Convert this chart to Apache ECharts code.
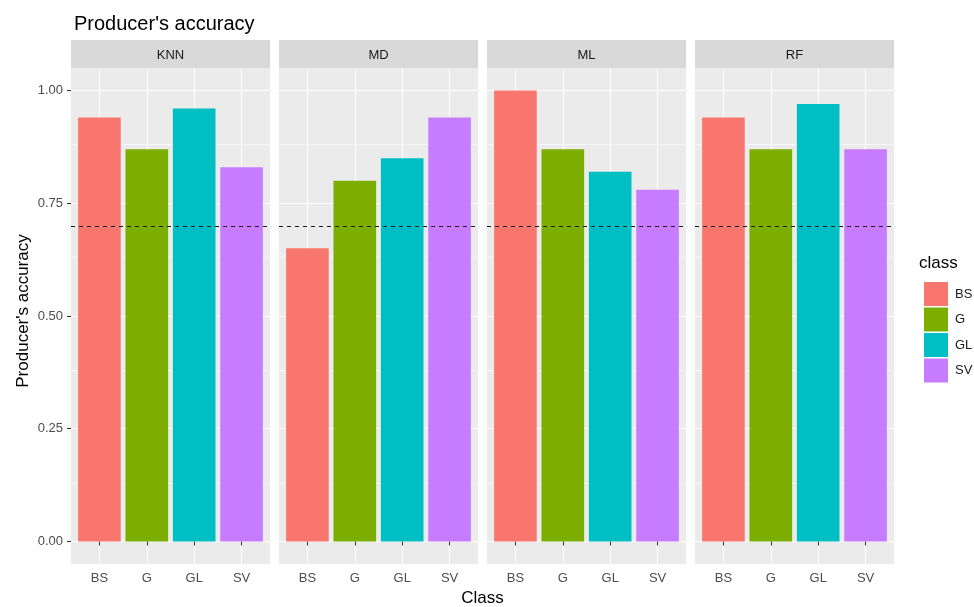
<!DOCTYPE html>
<html>
<head>
<meta charset="utf-8">
<script src="https://cdn.jsdelivr.net/npm/echarts@6/dist/echarts.min.js"></script>
<style>
  html, body { margin: 0; padding: 0; background: #fff; }
  #chart { width: 974px; height: 607px; }
</style>
</head>
<body>
<div id="chart"></div>
<script>
// Facets (classification methods) and land-cover classes
const methods = ['KNN', 'MD', 'ML', 'RF'];
const classes = ['BS', 'G', 'GL', 'SV'];

// Producer's accuracy per class, one array per method
const knnAcc = [0.94, 0.87, 0.96, 0.83];
const mdAcc  = [0.65, 0.80, 0.85, 0.94];
const mlAcc  = [1.00, 0.87, 0.82, 0.78];
const rfAcc  = [0.94, 0.87, 0.97, 0.87];

// Reference threshold (dashed line)
const threshold = 0.70;

// Axis ticks
const yTicks = [0, 0.25, 0.5, 0.75, 1.0];
const yMinorTicks = [0.125, 0.375, 0.625, 0.875];
const xTicks = [1, 2, 3, 4];

const classColors = ['#F8766D', '#7CAE00', '#00BFC4', '#C77CFF'];
const accByMethod = [knnAcc, mdAcc, mlAcc, rfAcc];

// Panel layout
const FONT = "'Liberation Sans', Arial, sans-serif";
const PANEL_LEFT = 71, PANEL_W = 199, PANEL_GAP = 9;
const PANEL_TOP = 68, PANEL_H = 496;
const STRIP_TOP = 40, STRIP_H = 28;
const panelX = i => PANEL_LEFT + i * (PANEL_W + PANEL_GAP);

const grids = [], xAxes = [], yAxes = [], series = [], graphics = [];

methods.forEach((m, g) => {
  grids.push({
    left: panelX(g), top: PANEL_TOP, width: PANEL_W, height: PANEL_H,
    show: true, backgroundColor: '#EBEBEB', borderWidth: 0
  });
  xAxes.push({
    type: 'value', gridIndex: g, min: 0.4, max: 4.6,
    axisLine: { show: false },
    axisTick: { show: true, customValues: xTicks, length: 4, lineStyle: { color: '#333333', width: 1 } },
    axisLabel: {
      customValues: xTicks, formatter: v => classes[Math.round(v) - 1],
      color: '#4D4D4D', fontSize: 13, fontFamily: FONT, margin: 8
    },
    splitLine: { show: true, lineStyle: { color: '#FFFFFF', width: 1.1 } }
  });
  yAxes.push({
    type: 'value', gridIndex: g, min: -0.05, max: 1.05,
    axisLine: { show: false },
    axisTick: { show: g === 0, customValues: yTicks, length: 4, lineStyle: { color: '#333333', width: 1 } },
    axisLabel: {
      show: g === 0, customValues: yTicks, formatter: v => v.toFixed(2),
      color: '#4D4D4D', fontSize: 13, fontFamily: FONT, margin: 8
    },
    splitLine: { show: true, lineStyle: { color: '#FFFFFF', width: 1.1 } }
  });

  // minor horizontal grid lines, kept beneath the bars
  series.push({
    type: 'line', xAxisIndex: g, yAxisIndex: g, data: [], z: 1, silent: true,
    markLine: {
      z: 1, silent: true, symbol: 'none', label: { show: false }, animation: false,
      lineStyle: { color: '#FFFFFF', width: 0.55, type: 'solid' },
      data: yMinorTicks.map(v => ({ yAxis: v }))
    }
  });

  // bars, one series per class so the legend lists the classes
  classes.forEach((c, k) => {
    series.push({
      type: 'bar', name: c, xAxisIndex: g, yAxisIndex: g, z: 2,
      barWidth: '90%', barGap: '-100%',
      itemStyle: { color: classColors[k] },
      data: [[k + 1, accByMethod[g][k]]]
    });
  });

  // threshold line drawn over the bars
  series.push({
    type: 'line', xAxisIndex: g, yAxisIndex: g, data: [], z: 5, silent: true,
    markLine: {
      z: 6, silent: true, symbol: 'none', label: { show: false }, animation: false,
      lineStyle: { color: '#1A1A1A', width: 1.1, type: [4, 4] },
      data: [{ yAxis: threshold }]
    }
  });

  // facet strip
  graphics.push({
    type: 'rect', left: panelX(g), top: STRIP_TOP,
    shape: { width: PANEL_W, height: STRIP_H }, style: { fill: '#D9D9D9' }, silent: true
  });
  graphics.push({
    type: 'text', x: panelX(g) + PANEL_W / 2, y: STRIP_TOP + STRIP_H / 2 + 1,
    style: { text: m, fill: '#1A1A1A', font: '13px ' + FONT, align: 'center', verticalAlign: 'middle' },
    silent: true
  });
});

// axis titles and legend title
graphics.push({
  type: 'text', x: PANEL_LEFT + (4 * PANEL_W + 3 * PANEL_GAP) / 2, y: 598,
  style: { text: 'Class', fill: '#000000', font: '17px ' + FONT, align: 'center', verticalAlign: 'middle' }
});
graphics.push({
  type: 'text', x: 23, y: 311, rotation: Math.PI / 2,
  style: { text: "Producer's accuracy", fill: '#000000', font: '17px ' + FONT, align: 'center', verticalAlign: 'middle' }
});
graphics.push({
  type: 'text', x: 919, y: 263,
  style: { text: 'class', fill: '#000000', font: '17px ' + FONT, align: 'left', verticalAlign: 'middle' }
});

const chart = echarts.init(document.getElementById('chart'), null, { renderer: 'canvas' });
chart.setOption({
  animation: false,
  backgroundColor: '#FFFFFF',
  title: {
    text: "Producer's accuracy", left: 69, top: 9,
    textStyle: { fontSize: 20, fontWeight: 'normal', color: '#000000', fontFamily: FONT }
  },
  legend: {
    data: classes, orient: 'vertical', left: 919, top: 277,
    icon: 'rect', itemWidth: 24, itemHeight: 24, itemGap: 1.5,
    textStyle: { fontSize: 13, color: '#1A1A1A', fontFamily: FONT, padding: [0, 0, 0, 2] }
  },
  grid: grids,
  xAxis: xAxes,
  yAxis: yAxes,
  series: series,
  graphic: graphics
});
</script>
</body>
</html>
